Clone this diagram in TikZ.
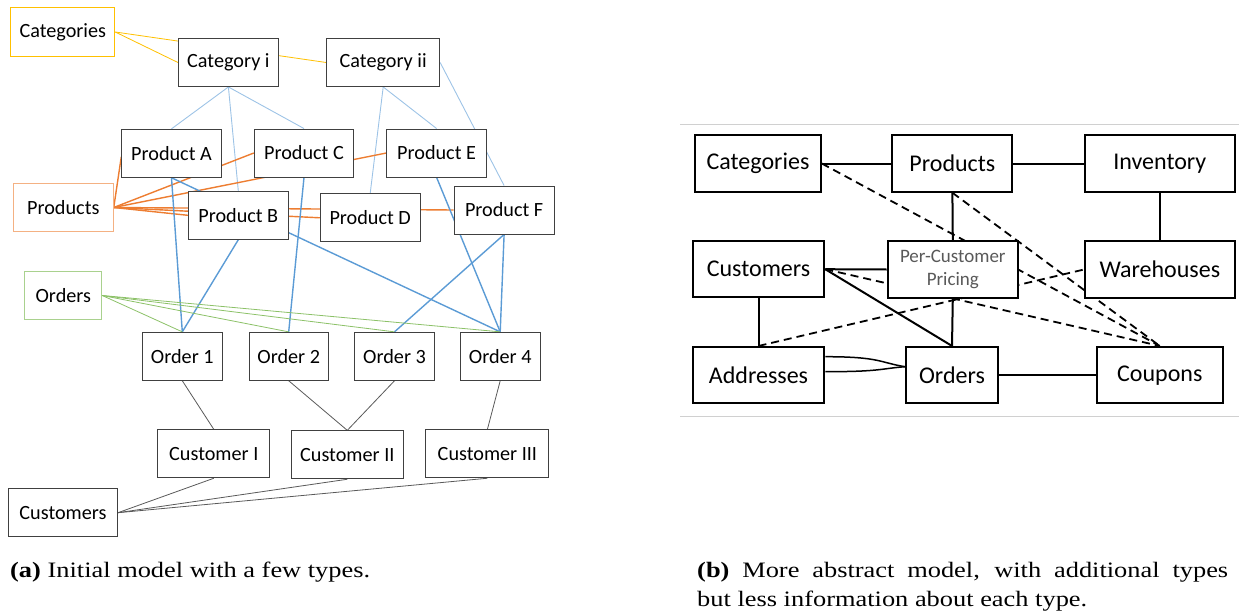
\documentclass[tikz,border=0pt]{standalone}
\usepackage{fontspec}
\newfontfamily\boxfont{Carlito}
\newfontfamily\capfont[FakeStretch=1.2]{Liberation Serif}
\usetikzlibrary{backgrounds}

\definecolor{catgold}{HTML}{FFC000}
\definecolor{prodorange}{HTML}{ED7D31}
\definecolor{prodlight}{HTML}{F4B183}
\definecolor{ordgreen}{HTML}{A9D18E}
\definecolor{ordline}{HTML}{8CC168}
\definecolor{bluelight}{HTML}{9DC3E6}
\definecolor{bluemid}{HTML}{5B9BD5}
\definecolor{boxgray}{HTML}{404040}
\definecolor{custline}{HTML}{595959}
\definecolor{rulegray}{HTML}{D0D0D0}

\tikzset{
  lbox/.style={draw=boxgray, line width=0.9pt, fill=white, inner sep=0pt,
    font=\boxfont\fontsize{20.2}{22}\selectfont, minimum height=48pt},
  rbox/.style={draw=black, line width=2pt, fill=white, inner sep=0pt,
    font=\boxfont\fontsize{24}{26}\selectfont, minimum height=56.5pt},
  catlink/.style={catgold, line width=0.8pt},
  cplink/.style={bluelight, line width=0.9pt},
  prodlink/.style={prodorange, line width=1.4pt},
  polink/.style={bluemid, line width=1.4pt},
  ordlink/.style={ordline, line width=0.8pt},
  custlink/.style={custline, line width=0.8pt},
  solidlink/.style={black, line width=2pt},
  dashlink/.style={black, line width=1.8pt, dash pattern=on 8pt off 5pt},
  captext/.style={inner sep=0pt, font=\capfont\fontsize{22}{26}\selectfont}
}

\begin{document}
\begin{tikzpicture}[x=1pt, y=-1pt]
\useasboundingbox (0,0) rectangle (1239,615);

% ---------- (a) instance-level model ----------
\node[lbox, draw=catgold, minimum width=104pt, minimum height=48.5pt] (cats) at (62.8,32) {Categories};
\node[lbox, minimum width=100pt] (ci)  at (228.4,62.5) {Category i};
\node[lbox, minimum width=113pt] (cii) at (383.2,62.5) {Category ii};

\node[lbox, minimum width=99.5pt] (pA) at (171.5,153.3) {Product A};
\node[lbox, minimum width=99.5pt] (pC) at (304,153) {Product C};
\node[lbox, minimum width=99.5pt] (pE) at (436.6,153) {Product E};
\node[lbox, draw=prodlight, minimum width=100pt] (prods) at (63.3,207.5) {Products};
\node[lbox, minimum width=100pt] (pB) at (238.3,215.3) {Product B};
\node[lbox, minimum width=100pt] (pD) at (370.2,217.8) {Product D};
\node[lbox, minimum width=100pt] (pF) at (504.1,210) {Product F};

\node[lbox, draw=ordgreen, minimum width=77pt] (ords) at (63.3,295.5) {Orders};
\node[lbox, minimum width=79.5pt] (o1) at (182.3,356.3) {Order 1};
\node[lbox, minimum width=79.5pt] (o2) at (288.7,356.3) {Order 2};
\node[lbox, minimum width=79.5pt] (o3) at (394.5,356.3) {Order 3};
\node[lbox, minimum width=79.5pt] (o4) at (500.2,356.3) {Order 4};

\node[lbox, minimum width=112pt] (cu1) at (213.8,453.8) {Customer I};
\node[lbox, minimum width=112pt] (cu2) at (347.3,454.8) {Customer II};
\node[lbox, minimum width=123pt] (cu3) at (487.4,453.8) {Customer III};
\node[lbox, minimum width=109pt] (custs) at (63,512.7) {Customers};

\begin{pgfonlayer}{background}
  % categories
  \draw[catlink] (cats.east) -- (ci.west);
  \draw[catlink] (cats.east) -- (cii.west);
  \draw[cplink] (ci.south) -- (pA.north);
  \draw[cplink] (ci.south) -- (pC.north);
  \draw[cplink] (ci.south) -- (pB.north);
  \draw[cplink] (cii.south) -- (pE.north);
  \draw[cplink] (cii.south) -- (pD.north);
  \draw[cplink] (cii.east) -- (pF.north);
  % products
  \draw[prodlink] (prods.east) -- ([yshift=-3.4pt]pA.west);
  \draw[prodlink] (prods.east) -- (pC.west);
  \draw[prodlink] (prods.east) -- (pE.west);
  \draw[prodlink] (prods.east) -- (pB.west);
  \draw[prodlink] (prods.east) -- (pD.west);
  \draw[prodlink] (prods.east) -- (pF.west);
  % product to order
  \draw[polink] (pA.south) -- (o1.north);
  \draw[polink] (pA.south) -- (o4.north);
  \draw[polink] (pB.south) -- (o1.north);
  \draw[polink] (pC.south) -- (o2.north);
  \draw[polink] (pE.south) -- (o4.north);
  \draw[polink] (pF.south) -- (o3.north);
  \draw[polink] (pF.south) -- (o4.north);
  % orders
  \draw[ordlink] (ords.east) -- (o1.north);
  \draw[ordlink] (ords.east) -- (o2.north);
  \draw[ordlink] (ords.east) -- (o3.north);
  \draw[ordlink] (ords.east) -- (o4.north);
  % customers
  \draw[custlink] (o1.south) -- (cu1.north);
  \draw[custlink] (o2.south) -- (cu2.north);
  \draw[custlink] (o3.south) -- (cu2.north);
  \draw[custlink] (o4.south) -- (cu3.north);
  \draw[custlink] (custs.east) -- (cu1.south);
  \draw[custlink] (custs.east) -- (cu2.south);
  \draw[custlink] (custs.east) -- (cu3.south);
\end{pgfonlayer}

% ---------- (b) type-level model ----------
\coordinate (ruleTL) at (680,124.3);
\coordinate (ruleTR) at (1239,124.3);
\coordinate (ruleBL) at (680,416);
\coordinate (ruleBR) at (1239,416);
\draw[rulegray, line width=1pt] (ruleTL) -- (ruleTR);
\draw[rulegray, line width=1pt] (ruleBL) -- (ruleBR);

\node[rbox, minimum width=125.5pt] (rcat)  at (758,163.5) {Categories};
\node[rbox, minimum width=120pt]   (rprod) at (952.4,163.5) {Products};
\node[rbox, minimum width=149.5pt] (rinv)  at (1159.8,163.5) {Inventory};
\node[rbox, minimum width=131.5pt] (rcust) at (758.5,269.2) {Customers};
\node[rbox, minimum width=130.5pt, text=custline,
      font=\boxfont\fontsize{19}{23.5}\selectfont, align=center] (rpcp) at (952.8,269.5) {Per-Customer\\Pricing};
\node[rbox, minimum width=149.5pt] (rware) at (1159.8,269.5) {Warehouses};
\node[rbox, minimum width=131.5pt] (raddr) at (758.5,375.2) {Addresses};
\node[rbox, minimum width=92pt]    (rord)  at (952,375.2) {Orders};
\node[rbox, minimum width=126pt]   (rcoup) at (1159.8,375.2) {Coupons};

\begin{pgfonlayer}{background}
  \draw[solidlink] (rcat.east) -- (rprod.west);
  \draw[solidlink] (rprod.east) -- (rinv.west);
  \draw[solidlink] (rprod.south) -- (rpcp.north);
  \draw[solidlink] (rinv.south) -- (rware.north);
  \draw[solidlink] (rcust.east) -- (rpcp.west);
  \draw[solidlink] (rcust.south) -- (raddr.north);
  \draw[solidlink] (rcust.east) -- (rord.north);
  \draw[solidlink] (rpcp.south) -- (rord.north);
  \draw[solidlink] (rord.east) -- (rcoup.west);
  \draw[solidlink, line width=1.5pt] ([yshift=18.5pt]raddr.east) .. controls +(55,0) and +(-25,-4) .. ([yshift=8.5pt]rord.west);
  \draw[solidlink, line width=1.5pt] ([yshift=3.5pt]raddr.east) .. controls +(55,0) and +(-25,2) .. ([yshift=8.5pt]rord.west);
  \draw[dashlink] (rcat.east) -- (rcoup.north);
  \draw[dashlink] (rprod.south) -- (rcoup.north);
  \draw[dashlink] (rcust.east) -- (rcoup.north);
  \draw[dashlink] (raddr.north) -- (rware.west);
\end{pgfonlayer}

% ---------- captions ----------
\node[captext, anchor=base west] (capa) at (10,577) {\textbf{(a)} Initial model with a few types.};
\node[captext, anchor=base west] (capb1) at (697,577) {\makebox[531pt][s]{\textbf{(b)} More abstract model, with additional types}};
\node[captext, anchor=base west] (capb2) at (697,606) {but less information about each type.};
\end{tikzpicture}
\end{document}
